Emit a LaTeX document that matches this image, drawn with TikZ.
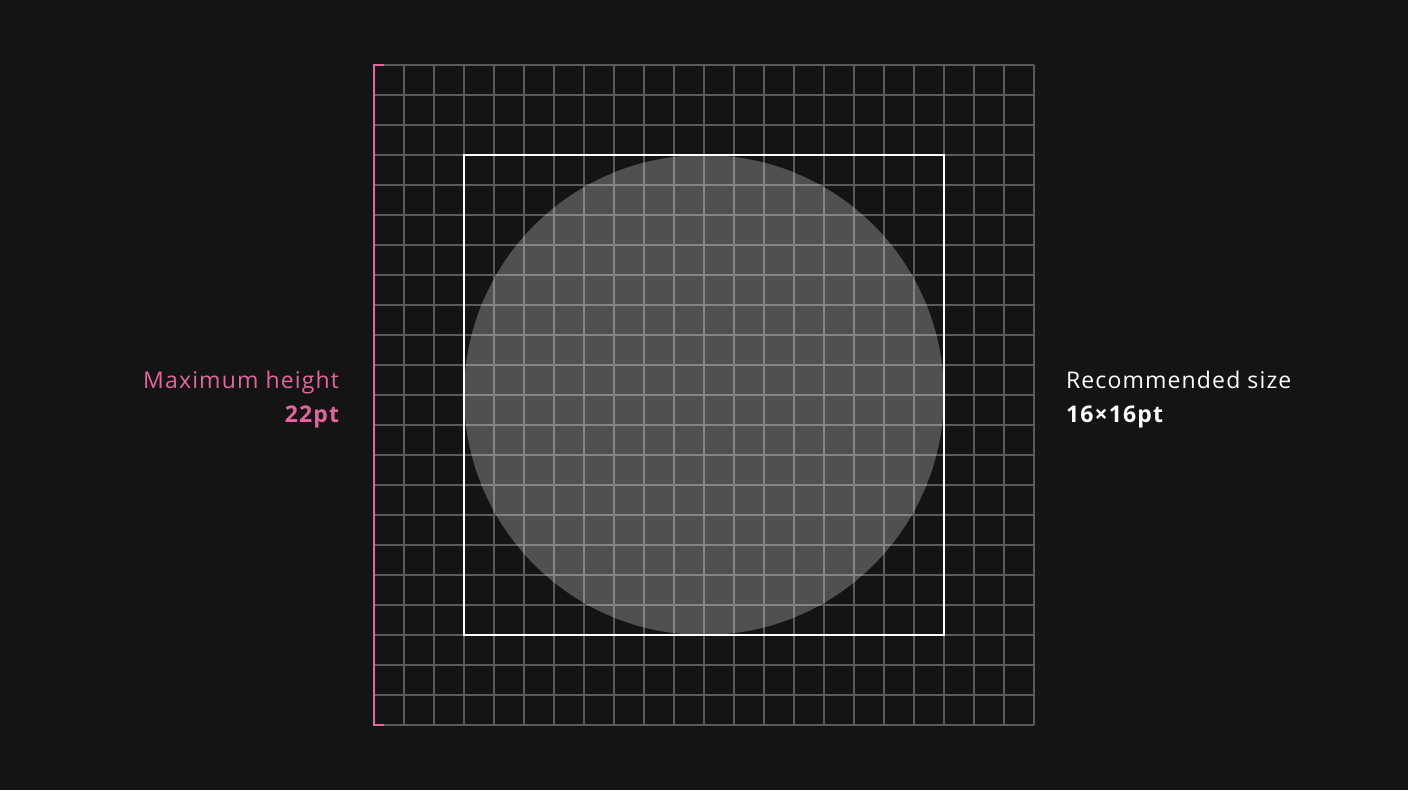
\documentclass[tikz,border=0pt]{standalone}
\usepackage{fontspec}
\setmainfont{Open Sans}[LetterSpace=5]
\definecolor{cbg}{HTML}{141414}
\definecolor{cgrid}{HTML}{5A5A5A}
\definecolor{cpink}{HTML}{E5649F}
\tikzset{
  every picture/.style={line width=2pt},
  gridline/.style={draw=cgrid, line width=2pt},
  label/.style={font=\fontsize{23}{33}\selectfont, inner sep=0pt, align=#1},
  label/.default=left,
}
\begin{document}
\begin{tikzpicture}[x=1pt, y=-1pt]
  \fill[cbg] (0,0) rectangle (1408,790);
  \useasboundingbox (0,0) rectangle (1408,790);
  % 22 x 22 grid of 30pt cells
  \foreach \i in {0,...,22} {
    \draw[gridline] (374+30*\i,65) -- (374+30*\i,725);
    \draw[gridline] (374,65+30*\i) -- (1034,65+30*\i);
  }
  % icon circle over the grid
  \fill[white, fill opacity=0.26] (704,395) circle (240);
  % recommended 16 x 16 area
  \draw[white] (464,155) rectangle (944,635);
  % maximum height bracket
  \draw[cpink, line cap=butt] (384,65) -- (374,65) -- (374,725) -- (384,725);
  \node[label=right, text=cpink, anchor=base east] (maxh) at (340,388) {Maximum height};
  \node[label=right, text=cpink, anchor=base east, font=\fontsize{23}{33}\selectfont\bfseries] (maxv) at (340,422) {22pt};
  \node[label, text=white, anchor=base west] (rech) at (1065,388) {Recommended size};
  \node[label, text=white, anchor=base west, font=\fontsize{23}{33}\selectfont\bfseries] (recv) at (1065,422) {16×16pt};
\end{tikzpicture}
\end{document}
